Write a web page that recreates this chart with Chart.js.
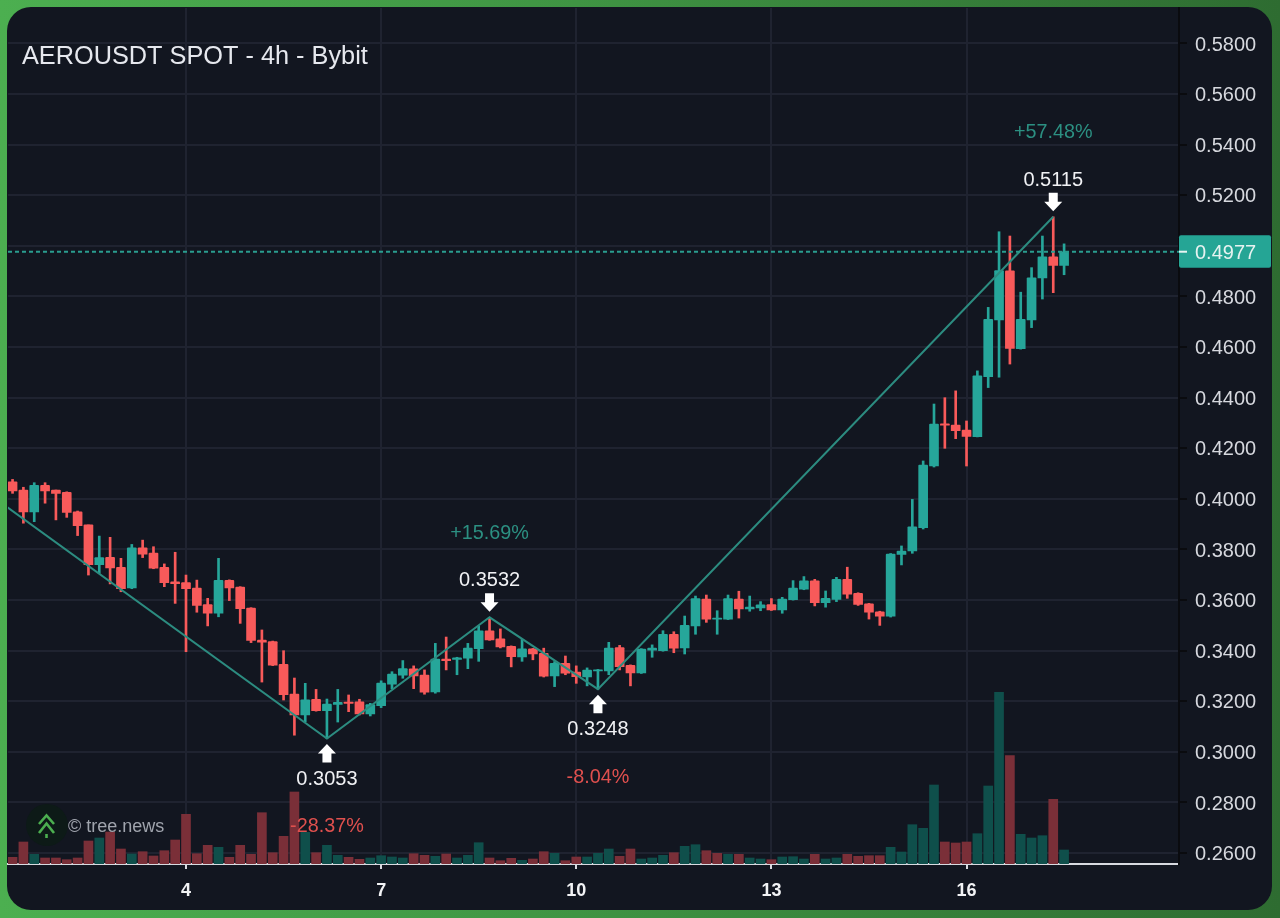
<!DOCTYPE html>
<html>
<head>
<meta charset="utf-8">
<title>AEROUSDT SPOT - 4h - Bybit</title>
<style>
  html, body { margin: 0; padding: 0; width: 1280px; height: 918px; overflow: hidden; }
  body { background: linear-gradient(90deg, #4caf50 0%, #3f9443 45%, #2e6c31 100%); position: relative; }
  #card { position: absolute; left: 7px; top: 7px; width: 1265px; height: 903px; border-radius: 24px; background: #121620; overflow: hidden; }
  #wrap { position: absolute; left: 0; top: 0; width: 1280px; height: 918px; }
  canvas { display: block; }
</style>
<script src="https://cdn.jsdelivr.net/npm/chart.js@4/dist/chart.umd.min.js"></script>
</head>
<body>
<div id="card"></div>
<div id="wrap"><canvas id="chart" width="1280" height="918"></canvas></div>
<script>
// Four-hour AERO/USDT candles, oldest first.
const opens = [
  .4067,.4035,.3949,.4054,.4035,.4026,.3949,.3897,.3740,.3769,
  .3730,.3648,.3807,.3786,.3730,.3672,.3669,.3647,.3582,.3548,
  .3678,.3651,.3568,.3442,.3436,.3346,.3229,.3146,.3208,.3163,
  .3188,.3197,.3198,.3150,.3183,.3268,.3303,.3328,.3304,.3237,
  .3367,.3366,.3370,.3408,.3479,.3447,.3417,.3375,.3407,.3390,
  .3300,.3350,.3315,.3296,.3320,.3320,.3412,.3342,.3312,.3402,
  .3400,.3465,.3411,.3498,.3604,.3525,.3525,.3604,.3565,.3569,
  .3582,.3561,.3602,.3643,.3676,.3590,.3603,.3682,.3627,.3585,
  .3554,.3536,.3781,.3794,.3886,.4130,.4297,.4292,.4272,.4246,
  .4483,.4707,.4901,.4594,.4707,.4873,.4957,.4923
];
const closes = [
  .4032,.3949,.4054,.4032,.4022,.3947,.3894,.3740,.3768,.3727,
  .3645,.3807,.3782,.3726,.3669,.3665,.3645,.3579,.3548,.3678,
  .3648,.3566,.3441,.3434,.3343,.3226,.3146,.3206,.3163,.3189,
  .3196,.3192,.3150,.3187,.3272,.3308,.3329,.3300,.3236,.3367,
  .3361,.3372,.3410,.3479,.3443,.3415,.3376,.3407,.3387,.3299,
  .3350,.3311,.3297,.3323,.3324,.3410,.3337,.3312,.3406,.3410,
  .3465,.3410,.3500,.3606,.3525,.3529,.3606,.3565,.3572,.3581,
  .3561,.3604,.3647,.3676,.3590,.3607,.3682,.3623,.3583,.3552,
  .3536,.3782,.3794,.3890,.4134,.4296,.4291,.4270,.4247,.4486,
  .4710,.4902,.4595,.4710,.4874,.4957,.4923,.4977
];
const highs = [
  .4077,.4046,.4064,.4064,.4035,.4028,.3952,.3897,.3853,.3848,
  .3765,.3820,.3837,.3811,.3743,.3789,.3699,.3679,.3607,.3765,
  .3680,.3653,.3570,.3482,.3438,.3400,.3292,.3271,.3247,.3209,
  .3247,.3225,.3208,.3192,.3281,.3317,.3361,.3340,.3324,.3429,
  .3454,.3374,.3429,.3498,.3532,.3486,.3419,.3445,.3409,.3410,
  .3357,.3379,.3340,.3332,.3326,.3433,.3421,.3344,.3408,.3423,
  .3479,.3475,.3537,.3616,.3620,.3558,.3620,.3635,.3616,.3594,
  .3606,.3611,.3677,.3693,.3682,.3636,.3690,.3730,.3629,.3587,
  .3556,.3784,.3814,.3998,.4150,.4375,.4400,.4427,.4308,.4506,
  .4757,.5056,.5039,.4817,.4914,.5039,.5115,.5008
];
const lows = [
  .4022,.3904,.3910,.3983,.3917,.3927,.3855,.3699,.3706,.3664,
  .3633,.3645,.3768,.3724,.3653,.3587,.3396,.3552,.3498,.3534,
  .3598,.3508,.3432,.3276,.3341,.3205,.3066,.3119,.3161,.3053,
  .3118,.3159,.3146,.3142,.3175,.3250,.3291,.3250,.3228,.3232,
  .3324,.3305,.3329,.3358,.3441,.3411,.3336,.3358,.3364,.3296,
  .3258,.3305,.3271,.3261,.3248,.3305,.3324,.3261,.3310,.3374,
  .3398,.3392,.3387,.3465,.3512,.3465,.3523,.3529,.3556,.3558,
  .3559,.3548,.3600,.3641,.3577,.3572,.3594,.3607,.3579,.3525,
  .3500,.3533,.3739,.3785,.3881,.4126,.4200,.4238,.4130,.4245,
  .4440,.4481,.4533,.4592,.4677,.4790,.4815,.4886
];
const volumes = [
  67,220,97,60,60,43,60,230,260,320,
  150,100,123,80,133,240,497,103,187,167,
  67,187,97,513,113,277,720,317,113,187,
  87,67,47,60,83,70,60,103,87,77,
  100,60,87,213,60,33,57,37,50,123,
  107,33,70,70,107,150,77,150,50,60,
  87,113,177,193,133,107,97,97,60,50,
  43,70,73,50,97,50,60,97,77,83,
  83,167,120,393,357,790,220,210,220,303,
  780,1717,1083,297,260,283,647,140
];
// Near-flat candle whose volume bar is on the selling side.
const sellVolumeDojis = [65];

// Swing pivots joined by the zig-zag; the first one lies left of the visible range.
const pivotIndexes = [-10, 29, 44, 54, 96];
const pivotPrices = [0.4262, 0.3053, 0.3532, 0.3248, 0.5115];
const pivotPriceLabels = ['', '0.3053', '0.3532', '0.3248', '0.5115'];
const pivotChangeLabels = ['', '-28.37%', '+15.69%', '-8.04%', '+57.48%'];

const lastPrice = 0.4977;
const priceTicks = [0.26,0.28,0.30,0.32,0.34,0.36,0.38,0.40,0.42,0.44,0.46,0.48,0.50,0.52,0.54,0.56,0.58];
const dayTickIndexes = [16, 34, 52, 70, 88];
const dayTickLabels = ['4', '7', '10', '13', '16'];
const titleText = 'AEROUSDT SPOT - 4h - Bybit';
const creditText = '\u00a9 tree.news';

const UP = '#26a69a';
const DOWN = '#f85a5a';
const UP_VOL = '#0f4f4b';
const DOWN_VOL = '#7a2f38';
const LINE = '#2c8c80';
const GRID = '#1f2330';
const FONT = '"Liberation Sans", Arial, sans-serif';

const xMin = -0.42, xMax = 107.6;
const isUp = i => closes[i] >= opens[i];
const idx = opens.map((_, i) => i);

// Text, arrows, logo and the last-price tag, placed through the chart's scales.
const overlay = {
  id: 'overlay',
  afterDatasetsDraw(chart) {
    const { ctx, scales: { x, y } } = chart;
    const text = (s, px, py, font, color, align) => {
      ctx.font = font; ctx.fillStyle = color; ctx.textAlign = align || 'center';
      ctx.textBaseline = 'middle'; ctx.fillText(s, px, py + 2);
    };
    ctx.save();

    text(titleText, 22, 55, '25.3px ' + FONT, '#e6e8ee', 'left');

    // Logo badge and credit line
    ctx.fillStyle = '#0d1a17';
    ctx.beginPath(); ctx.arc(47, 825, 21, 0, Math.PI * 2); ctx.fill();
    ctx.strokeStyle = '#4caf50'; ctx.lineWidth = 2.6; ctx.lineCap = 'butt';
    [[815.5, 824], [823.5, 833]].forEach(([top, bottom]) => {
      ctx.beginPath(); ctx.moveTo(39, bottom); ctx.lineTo(46.5, top); ctx.lineTo(54, bottom); ctx.stroke();
    });
    ctx.beginPath(); ctx.moveTo(46.5, 834); ctx.lineTo(46.5, 838); ctx.stroke();
    text(creditText, 68, 825.5, '18px ' + FONT, '#a0a4ad', 'left');

    // Pivot arrows with their price and percentage change
    pivotIndexes.forEach((index, i) => {
      if (!pivotPriceLabels[i]) return;
      const px = x.getPixelForValue(index);
      const py = y.getPixelForValue(pivotPrices[i]);
      const isPeak = i > 0 && pivotPrices[i] > pivotPrices[i - 1];
      const dir = isPeak ? -1 : 1;
      ctx.fillStyle = '#ffffff';
      ctx.beginPath();
      ctx.moveTo(px, py + dir * 5.5);
      ctx.lineTo(px + 9, py + dir * 15);
      ctx.lineTo(px + 4.5, py + dir * 15);
      ctx.lineTo(px + 4.5, py + dir * 24);
      ctx.lineTo(px - 4.5, py + dir * 24);
      ctx.lineTo(px - 4.5, py + dir * 15);
      ctx.lineTo(px - 9, py + dir * 15);
      ctx.closePath(); ctx.fill();
      text(pivotPriceLabels[i], px, py + dir * 38.5, '20px ' + FONT, '#f0f1f4');
      text(pivotChangeLabels[i], px, py + dir * 86, '19.8px ' + FONT, isPeak ? '#2c9082' : '#e0504e');
    });

    ctx.restore();
  },
  afterDraw(chart) {
    const { ctx, scales: { y } } = chart;
    const py = y.getPixelForValue(lastPrice);
    const left = chart.chartArea.right;
    ctx.save();
    ctx.fillStyle = '#25a595';
    ctx.beginPath(); ctx.roundRect(left, py - 16.5, 92, 32.5, 2); ctx.fill();
    ctx.strokeStyle = '#e8f4f2'; ctx.lineWidth = 2;
    ctx.beginPath(); ctx.moveTo(left, py); ctx.lineTo(left + 8, py); ctx.stroke();
    ctx.font = '20px ' + FONT; ctx.fillStyle = '#e6f2f0';
    ctx.textAlign = 'left'; ctx.textBaseline = 'middle';
    ctx.fillText(lastPrice.toFixed(4), left + 16, py + 1.5);
    ctx.restore();
  }
};

new Chart(document.getElementById('chart'), {
  type: 'bar',
  plugins: [overlay],
  data: {
    datasets: [
      {
        type: 'line', label: 'Last price', order: 1, yAxisID: 'y',
        data: [{ x: xMin, y: lastPrice }, { x: xMax, y: lastPrice }],
        borderColor: '#2a9d8f', borderWidth: 2, borderDash: [4, 3], pointRadius: 0
      },
      {
        type: 'line', label: 'Swings', order: 2, yAxisID: 'y',
        data: pivotIndexes.map((p, i) => ({ x: p, y: pivotPrices[i] })),
        borderColor: LINE, borderWidth: 2, pointRadius: 0, tension: 0
      },
      {
        label: 'Body', order: 3, yAxisID: 'y', grouped: false,
        data: idx.map(i => ({ x: i, y: [opens[i], closes[i]] })),
        backgroundColor: idx.map(i => isUp(i) ? UP : DOWN),
        barThickness: 9, minBarLength: 1, borderRadius: 1
      },
      {
        label: 'Wick', order: 4, yAxisID: 'y', grouped: false,
        data: idx.map(i => ({ x: i, y: [lows[i], highs[i]] })),
        backgroundColor: idx.map(i => isUp(i) ? UP : DOWN),
        barThickness: 2
      },
      {
        label: 'Volume', order: 5, yAxisID: 'vol', grouped: false,
        data: idx.map(i => ({ x: i, y: volumes[i] })),
        backgroundColor: idx.map(i => (isUp(i) && !sellVolumeDojis.includes(i)) ? UP_VOL : DOWN_VOL),
        barThickness: 9
      }
    ]
  },
  options: {
    responsive: false,
    animation: false,
    events: [],
    layout: { padding: { left: 8, top: 8, right: 9, bottom: 0 } },
    plugins: { legend: { display: false }, tooltip: { enabled: false }, title: { display: false } },
    scales: {
      x: {
        type: 'linear', position: 'bottom', min: xMin, max: xMax, offset: false,
        afterBuildTicks(scale) { scale.ticks = dayTickIndexes.map(value => ({ value })); },
        afterFit(scale) { scale.height = 54; scale.paddingLeft = 0; scale.paddingRight = 0; },
        border: { color: '#d8dae0', width: 2 },
        grid: { offset: false, color: GRID, lineWidth: 2, tickColor: '#d8dae0', tickLength: 5, tickWidth: 2 },
        ticks: {
          autoSkip: false, maxRotation: 0, padding: 11, color: '#f2f3f5',
          font: { family: FONT, size: 18, weight: 'bold' },
          callback: value => dayTickLabels[dayTickIndexes.indexOf(value)] ?? ''
        }
      },
      y: {
        type: 'linear', position: 'right', min: 0.25569, max: 0.59403,
        afterBuildTicks(scale) { scale.ticks = priceTicks.map(value => ({ value })); },
        afterFit(scale) { scale.width = 92; scale.paddingTop = 0; scale.paddingBottom = 0; },
        border: { color: '#0a0b0f', width: 2 },
        grid: { color: GRID, lineWidth: 2, tickColor: '#0a0b0f', tickLength: 8, tickWidth: 2 },
        ticks: {
          autoSkip: false, padding: 8, labelOffset: 1.5, color: '#d6d8de',
          font: { family: FONT, size: 20 },
          callback: value => value.toFixed(4)
        }
      },
      vol: { type: 'linear', display: false, min: 0, max: 8560, grid: { display: false } }
    }
  }
});
</script>
</body>
</html>
